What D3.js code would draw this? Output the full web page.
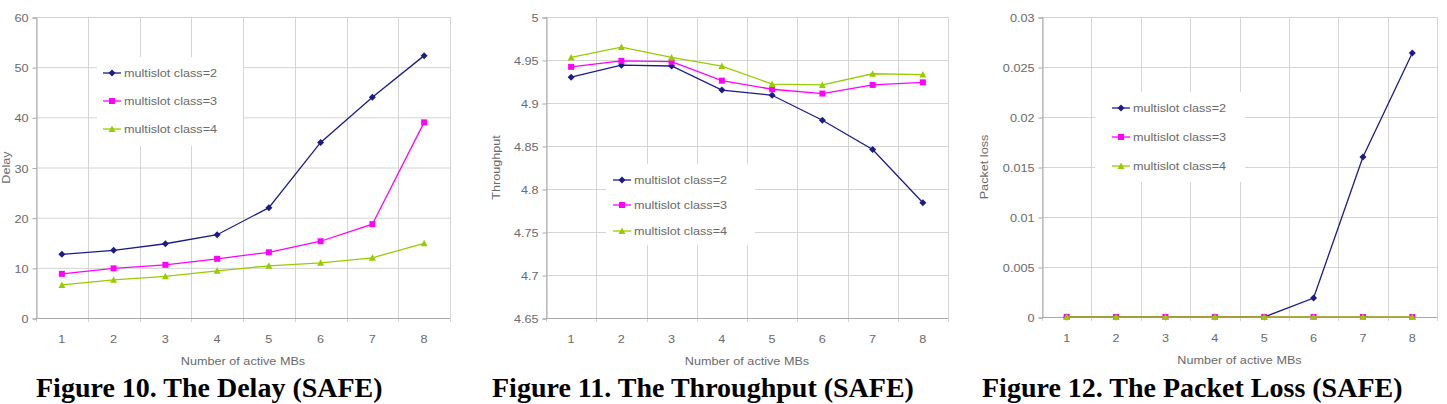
<!DOCTYPE html>
<html>
<head>
<meta charset="utf-8">
<script src="https://cdn.jsdelivr.net/npm/d3@7"></script>
<style>
  body { margin: 0; background: #fff; }
  svg { display: block; }
  .small { font-family: "Liberation Sans", Arial, sans-serif; font-size: 11px; fill: #6a6a6a; }
  .caption { font-family: "Liberation Serif", "Times New Roman", serif; font-size: 28px; font-weight: bold; fill: #000; }
</style>
</head>
<body>
<svg id="chart" width="1447" height="404"></svg>
<script>
// x categories, same for all three figures
var categories = [1, 2, 3, 4, 5, 6, 7, 8];
var seriesNames = ["multislot class=2", "multislot class=3", "multislot class=4"];

// figure 10, delay
var delayClass2 = [12.7, 13.5, 14.8, 16.6, 22.0, 35.0, 44.0, 52.3];
var delayClass3 = [8.8, 9.9, 10.6, 11.8, 13.1, 15.3, 18.7, 39.0];
var delayClass4 = [6.6, 7.6, 8.3, 9.4, 10.4, 11.0, 12.0, 14.9];
var delayTicks = [0, 10, 20, 30, 40, 50, 60];
var delayTickLabels = ["0", "10", "20", "30", "40", "50", "60"];

// figure 11, throughput
var thrClass2 = [4.930, 4.944, 4.943, 4.915, 4.909, 4.880, 4.846, 4.784];
var thrClass3 = [4.942, 4.949, 4.948, 4.926, 4.916, 4.911, 4.921, 4.924];
var thrClass4 = [4.953, 4.965, 4.953, 4.943, 4.922, 4.921, 4.934, 4.933];
var thrTicks = [4.65, 4.7, 4.75, 4.8, 4.85, 4.9, 4.95, 5];
var thrTickLabels = ["4.65", "4.7", "4.75", "4.8", "4.85", "4.9", "4.95", "5"];

// figure 12, packet loss
var lossClass2 = [0, 0, 0, 0, 0, 0.0019, 0.0160, 0.0264];
var lossClass3 = [0, 0, 0, 0, 0, 0, 0, 0];
var lossClass4 = [0, 0, 0, 0, 0, 0, 0, 0];
var lossTicks = [0, 0.005, 0.01, 0.015, 0.02, 0.025, 0.03];
var lossTickLabels = ["0", "0.005", "0.01", "0.015", "0.02", "0.025", "0.03"];

var xTitle = "Number of active MBs";
var yTitles = ["Delay", "Throughput", "Packet loss"];
var captions = ["Figure 10. The Delay (SAFE)", "Figure 11. The Throughput (SAFE)", "Figure 12. The Packet Loss (SAFE)"];

var colors = ["#1c1c88", "#ff00ff", "#99cc00"];
var stretch = 1.15;

var svg = d3.select("#chart");

// stretched small text like the scanned figure
function smallText(g, x, y, str, anchor, rotate) {
  var t = "translate(" + x + "," + y + ")";
  if (rotate) t += " rotate(-90)";
  t += " scale(" + stretch + ",1)";
  return g.append("text")
    .attr("class", "small")
    .attr("transform", t)
    .attr("text-anchor", anchor)
    .text(str);
}

function marker(g, kind, x, y, color) {
  if (kind == 0) {
    g.append("path")
      .attr("d", "M" + x + "," + (y - 3.5) + "L" + (x + 3.5) + "," + y + "L" + x + "," + (y + 3.5) + "L" + (x - 3.5) + "," + y + "Z")
      .attr("fill", color);
  } else if (kind == 1) {
    g.append("rect")
      .attr("x", x - 3).attr("y", y - 3)
      .attr("width", 6).attr("height", 6)
      .attr("fill", color);
  } else {
    g.append("path")
      .attr("d", "M" + x + "," + (y - 3.5) + "L" + (x + 3.5) + "," + (y + 3) + "L" + (x - 3.5) + "," + (y + 3) + "Z")
      .attr("fill", color);
  }
}

function drawPanel(p) {
  var g = svg.append("g");

  var xScale = d3.scaleBand()
    .domain(categories)
    .range([p.left, p.right]);

  var yScale = d3.scaleLinear()
    .domain([p.ticks[0], p.ticks[p.ticks.length - 1]])
    .range([p.bottom, p.top]);

  // horizontal gridlines
  g.selectAll(".hgrid")
    .data(p.ticks)
    .enter().append("line")
    .attr("x1", p.left).attr("x2", p.right)
    .attr("y1", function(d) { return yScale(d) + 0.5; })
    .attr("y2", function(d) { return yScale(d) + 0.5; })
    .attr("stroke", "#d4d4d4");

  // vertical gridlines between categories
  var bounds = categories.map(function(c) { return xScale(c); }).concat([p.right]);
  g.selectAll(".vgrid")
    .data(bounds)
    .enter().append("line")
    .attr("x1", function(d) { return Math.round(d) + 0.5; })
    .attr("x2", function(d) { return Math.round(d) + 0.5; })
    .attr("y1", p.top).attr("y2", p.bottom + 4)
    .attr("stroke", "#d4d4d4");

  // legend box hides the grid behind it
  g.append("rect")
    .attr("x", p.legend.x0).attr("y", p.legend.y0)
    .attr("width", p.legend.x1 - p.legend.x0)
    .attr("height", p.legend.y1 - p.legend.y0)
    .attr("fill", "#fff");

  // y axis
  var yAxis = d3.axisLeft(yScale)
    .tickValues(p.ticks)
    .tickSize(4)
    .tickFormat(function(d, i) { return p.labels[i]; });
  var ya = g.append("g")
    .attr("transform", "translate(" + (p.left + 0.5) + ",0.5)")
    .call(yAxis);
  ya.select(".domain").attr("stroke", "#a8a8a8");
  ya.selectAll(".tick line").attr("stroke", "#a8a8a8");
  ya.selectAll(".tick text")
    .attr("class", "small")
    .attr("fill", null)
    .attr("font-size", null).attr("font-family", null)
    .attr("x", null).attr("dy", null)
    .attr("transform", "translate(-8,4) scale(" + stretch + ",1)");

  // x axis line
  g.append("line")
    .attr("x1", p.left).attr("x2", p.right)
    .attr("y1", p.bottom + 0.5).attr("y2", p.bottom + 0.5)
    .attr("stroke", "#a8a8a8");

  // x tick labels
  categories.forEach(function(c) {
    smallText(g, xScale(c) + xScale.bandwidth() / 2, p.bottom + 25, String(c), "middle");
  });

  // series
  var line = d3.line()
    .x(function(d, i) { return xScale(categories[i]) + xScale.bandwidth() / 2; })
    .y(function(d) { return yScale(d); });

  p.series.forEach(function(s, k) {
    g.append("path")
      .attr("d", line(s))
      .attr("fill", "none")
      .attr("stroke", colors[k])
      .attr("stroke-width", 1.3);
    s.forEach(function(v, i) {
      marker(g, k, xScale(categories[i]) + xScale.bandwidth() / 2, yScale(v), colors[k]);
    });
  });

  // legend entries
  seriesNames.forEach(function(name, k) {
    var ly = p.legend.rows[k];
    g.append("line")
      .attr("x1", p.legend.lx).attr("x2", p.legend.lx + 18)
      .attr("y1", ly).attr("y2", ly)
      .attr("stroke", colors[k]).attr("stroke-width", 1.3);
    marker(g, k, p.legend.lx + 9, ly, colors[k]);
    smallText(g, p.legend.lx + 21, ly + 4, name, "start");
  });

  // axis titles
  smallText(g, (p.left + p.right) / 2, p.bottom + 47, xTitle, "middle");
  smallText(g, p.yTitleX, (p.top + p.bottom) / 2, p.yTitle, "middle", true);

  // caption under the chart
  g.append("text")
    .attr("class", "caption")
    .attr("x", p.capX).attr("y", 397)
    .text(p.caption);
}

drawPanel({
  left: 36, right: 450, top: 17, bottom: 318,
  ticks: delayTicks, labels: delayTickLabels,
  series: [delayClass2, delayClass3, delayClass4],
  legend: { x0: 97, x1: 243, y0: 57, y1: 146, lx: 103, rows: [73, 101, 129] },
  yTitle: yTitles[0], yTitleX: 10, capX: 36, caption: captions[0]
});

drawPanel({
  left: 546, right: 948, top: 17, bottom: 318,
  ticks: thrTicks, labels: thrTickLabels,
  series: [thrClass2, thrClass3, thrClass4],
  legend: { x0: 606, x1: 755, y0: 164, y1: 245, lx: 613, rows: [180, 205, 231] },
  yTitle: yTitles[1], yTitleX: 500, capX: 492, caption: captions[1]
});

drawPanel({
  left: 1042, right: 1437, top: 17, bottom: 317,
  ticks: lossTicks, labels: lossTickLabels,
  series: [lossClass2, lossClass3, lossClass4],
  legend: { x0: 1095, x1: 1245, y0: 92, y1: 182, lx: 1112, rows: [108, 137, 166] },
  yTitle: yTitles[2], yTitleX: 988, capX: 982, caption: captions[2]
});
</script>
</body>
</html>
